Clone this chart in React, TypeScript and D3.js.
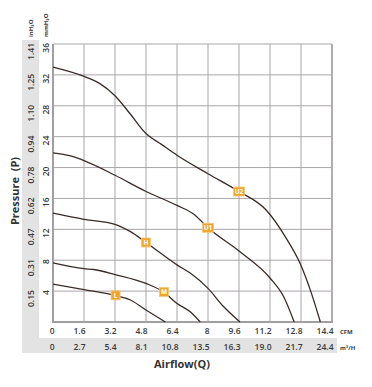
import React from 'react';
// @ts-ignore
import * as d3 from "d3";

// CFM ticks and matching m3/H ticks
const cfmTicks = [0, 1.6, 3.2, 4.8, 6.4, 8, 9.6, 11.2, 12.8, 14.4];
const cmhTicks = ["0", "2.7", "5.4", "8.1", "10.8", "13.5", "16.3", "19.0", "21.7", "24.4"];
// mmH2O ticks and matching inH2O ticks
const mmTicks = [4, 8, 12, 16, 20, 24, 28, 32, 36];
const inTicks = ["0.15", "0.31", "0.47", "0.62", "0.78", "0.94", "1.10", "1.25", "1.41"];

// curves, x in CFM, y in mmH2O
const u2X = [0, 1.6, 2.4, 3.2, 4.0, 4.8, 5.6, 6.4, 8.0, 9.6, 11.0, 12.0, 12.75, 13.3, 13.8];
const u2Y = [33.0, 31.8, 30.9, 29.3, 26.9, 24.4, 23.0, 21.6, 19.2, 16.9, 14.5, 11.0, 7.6, 4.0, 0];
const u1X = [0, 0.9, 1.6, 3.2, 4.8, 6.4, 7.3, 8.0, 9.6, 11.2, 11.9, 12.45];
const u1Y = [21.9, 21.5, 20.9, 19.0, 16.9, 15.1, 13.9, 12.2, 9.2, 5.7, 3.3, 0];
const hX = [0, 1.6, 3.2, 4.0, 4.8, 6.4, 7.1, 8.0, 8.8, 9.65];
const hY = [14.1, 13.3, 12.65, 11.7, 10.3, 7.4, 6.3, 4.35, 2.0, 0];
const mX = [0, 1.6, 2.1, 3.2, 4.8, 5.7, 6.4, 7.1, 7.6];
const mY = [7.65, 6.9, 6.8, 6.15, 5.0, 3.9, 2.4, 1.3, 0];
const lX = [0, 1.6, 3.2, 4.0, 4.8, 5.8];
const lY = [4.9, 4.2, 3.45, 2.85, 1.55, 0];

const markerNames = ["U2", "U1", "H", "M", "L"];
const markerX = [9.6, 8.0, 4.8, 5.73, 3.23];
const markerY = [16.9, 12.2, 10.3, 3.9, 3.45];

const curves = [[u2X, u2Y], [u1X, u1Y], [hX, hY], [mX, mY], [lX, lY]];

class PQChart extends React.Component {

    componentDidMount(): void {
        const W = 372, H = 387;
        const font = "'Open Sans', 'DejaVu Sans', sans-serif";

        d3.select("#pq-chart").selectAll("*").remove();
        const svg = d3.select("#pq-chart")
            .append("svg")
            .attr("width", W)
            .attr("height", H)
            .style("position", "absolute")
            .style("left", 0)
            .style("top", 0)
            .style("background", "#fff");

        const xScale = d3.scaleLinear().domain([0, 14.4]).range([53, 332]);
        const yScale = d3.scaleLinear().domain([0, 36]).range([322, 44]);

        //grey label bands
        svg.append("rect").attr("x", 22).attr("y", 40).attr("width", 17).attr("height", 313).attr("fill", "#e3e3e3");
        svg.append("rect").attr("x", 22).attr("y", 338).attr("width", 315).attr("height", 15).attr("fill", "#e3e3e3");

        //grid
        const g = svg.append("g");
        cfmTicks.slice(1, -1).forEach(t => {
            g.append("line")
                .attr("x1", xScale(t)).attr("x2", xScale(t))
                .attr("y1", yScale(36)).attr("y2", yScale(0))
                .attr("stroke", "#a9a5a9").attr("stroke-width", 1);
        });
        mmTicks.forEach(t => {
            g.append("line")
                .attr("x1", xScale(0)).attr("x2", xScale(14.4))
                .attr("y1", yScale(t)).attr("y2", yScale(t))
                .attr("stroke", "#a9a5a9").attr("stroke-width", 1);
        });
        //frame
        g.append("line").attr("x1", xScale(0)).attr("x2", xScale(0))
            .attr("y1", yScale(36)).attr("y2", yScale(0) + 1)
            .attr("stroke", "#a29ea2").attr("stroke-width", 2);
        g.append("line").attr("x1", xScale(14.4)).attr("x2", xScale(14.4))
            .attr("y1", yScale(36)).attr("y2", yScale(0) + 1)
            .attr("stroke", "#b0acb0").attr("stroke-width", 2);
        g.append("line").attr("x1", xScale(0) - 1).attr("x2", xScale(14.4) + 1)
            .attr("y1", yScale(0)).attr("y2", yScale(0))
            .attr("stroke", "#a29ea2").attr("stroke-width", 2);

        //curves
        const line = d3.line()
            .x((d: any) => xScale(d[0]))
            .y((d: any) => yScale(d[1]))
            .curve(d3.curveMonotoneX);
        curves.forEach(c => {
            const pts = c[0].map((x: number, i: number) => [x, c[1][i]]);
            svg.append("path")
                .attr("d", line(pts))
                .attr("fill", "none")
                .attr("stroke", "#3b2b26")
                .attr("stroke-width", 1.3);
        });

        //markers
        markerNames.forEach((n, i) => {
            const w = n.length > 1 ? 11 : 9;
            const cx = xScale(markerX[i]), cy = yScale(markerY[i]);
            svg.append("rect")
                .attr("x", cx - w / 2).attr("y", cy - 4.5)
                .attr("width", w).attr("height", 9)
                .attr("fill", "#f0a42c")
                .attr("stroke", "#f8c874").attr("stroke-width", 0.8);
            svg.append("text")
                .attr("x", cx).attr("y", cy + 2.3)
                .attr("text-anchor", "middle")
                .attr("font-family", font).attr("font-size", 6.5).attr("font-weight", 700)
                .attr("fill", "#fff")
                .text(n);
        });

        //x tick labels
        cfmTicks.forEach((t, i) => {
            svg.append("text")
                .attr("x", xScale(t) + 1.5).attr("y", 334)
                .attr("text-anchor", "end")
                .attr("font-family", font).attr("font-size", 8.5).attr("font-weight", 600)
                .attr("fill", "#3a3a3a")
                .text(String(t));
            svg.append("text")
                .attr("x", xScale(t) + 1.5).attr("y", 350)
                .attr("text-anchor", "end")
                .attr("font-family", font).attr("font-size", 8.5).attr("font-weight", 600)
                .attr("fill", "#3a3a3a")
                .text(cmhTicks[i]);
        });
        svg.append("text").attr("x", 340).attr("y", 334)
            .attr("font-family", font).attr("font-size", 6).attr("font-weight", 700)
            .attr("fill", "#3a3a3a").text("CFM");
        svg.append("text").attr("x", 340).attr("y", 350)
            .attr("font-family", font).attr("font-size", 6).attr("font-weight", 700)
            .attr("fill", "#3a3a3a").text("m³/H");

        //y tick labels (rotated)
        mmTicks.forEach((t, i) => {
            const y = yScale(t) - 1;
            svg.append("text")
                .attr("transform", `translate(49,${y}) rotate(-90)`)
                .attr("text-anchor", "end")
                .attr("font-family", font).attr("font-size", 8.5).attr("font-weight", 600)
                .attr("fill", "#3a3a3a")
                .text(String(t));
            svg.append("text")
                .attr("transform", `translate(34,${y}) rotate(-90)`)
                .attr("text-anchor", "end")
                .attr("font-family", font).attr("font-size", 8.5).attr("font-weight", 600)
                .attr("fill", "#3a3a3a")
                .text(inTicks[i]);
        });
        svg.append("text")
            .attr("transform", "translate(33,37) rotate(-90)")
            .attr("font-family", font).attr("font-size", 6).attr("font-weight", 700)
            .attr("fill", "#3a3a3a").text("inH₂O");
        svg.append("text")
            .attr("transform", "translate(48,37) rotate(-90)")
            .attr("font-family", font).attr("font-size", 6).attr("font-weight", 700)
            .attr("fill", "#3a3a3a").text("mmH₂O");

        //axis titles
        svg.append("text")
            .attr("transform", "translate(19,191) rotate(-90)")
            .attr("text-anchor", "middle")
            .attr("font-family", font).attr("font-size", 11).attr("font-weight", 700)
            .attr("fill", "#333")
            .style("white-space", "pre")
            .text("Pressure\u00a0\u00a0(P)");
        svg.append("text")
            .attr("x", 182).attr("y", 368)
            .attr("text-anchor", "middle")
            .attr("font-family", font).attr("font-size", 11).attr("font-weight", 700)
            .attr("fill", "#333")
            .text("Airflow(Q)");
    }

    render() {
        return (
            <div id={"pq-chart"}></div>
        );
    }
}

export default function App() {
    return <PQChart />;
}
